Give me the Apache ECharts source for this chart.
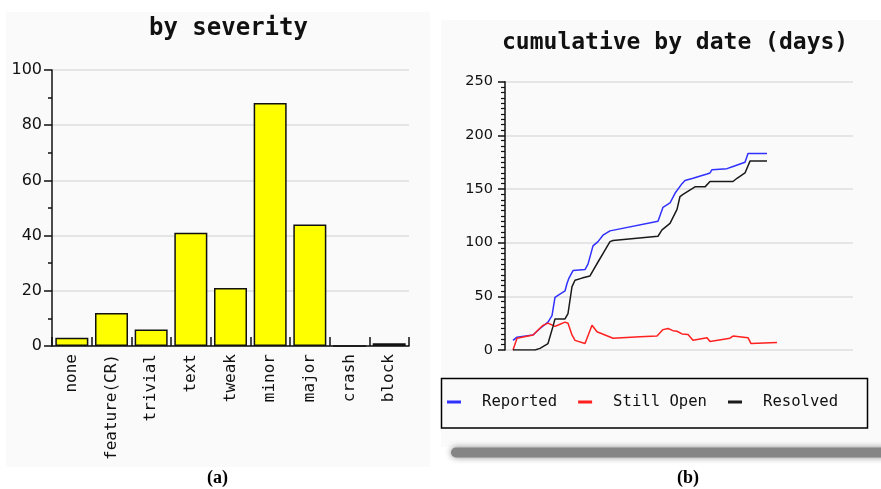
<!DOCTYPE html>
<html>
<head>
<meta charset="utf-8">
<script src="https://cdn.jsdelivr.net/npm/echarts@6/dist/echarts.min.js"></script>
<style>
html,body{margin:0;padding:0;background:#ffffff;}
#chart{width:881px;height:489px;}
</style>
</head>
<body>
<div id="chart"></div>
<script>
// ---- Panel (a): by severity ----
const severityCategories = ['none', 'feature(CR)', 'trivial', 'text', 'tweak', 'minor', 'major', 'crash', 'block'];
const severityCounts = [3, 12, 6, 41, 21, 88, 44, 0, 1];
const severityTicks = [0, 20, 40, 60, 80, 100];

// ---- Panel (b): cumulative by date (days) ----
const reportedDays = [8, 12, 28, 35, 43, 47, 50, 53, 60, 62, 64, 68, 80, 83, 88, 93, 98, 105, 153, 158, 165, 170, 177, 180, 188, 202, 205, 207, 222, 228, 240, 243, 262];
const reportedValues = [9, 12, 14, 20, 26, 32, 49, 51, 55, 62, 67, 74, 75, 80, 97, 101, 107, 111, 120, 133, 137, 146, 155, 158, 160, 164, 165, 168, 169, 171, 175, 183, 183];

const openDays = [8, 12, 28, 38, 43, 50, 55, 60, 63, 67, 70, 80, 87, 92, 100, 108, 135, 152, 158, 163, 168, 172, 177, 183, 188, 202, 205, 225, 228, 243, 246, 272];
const openValues = [0, 11, 14, 23, 25, 22, 24, 26, 25, 14, 9, 6, 23, 17, 14, 11, 12.4, 13, 19, 20, 18, 17.5, 15, 14.5, 9, 11.5, 8, 11, 13, 11.5, 6, 7];

const resolvedDays = [8, 30, 35, 43, 48, 50, 60, 63, 67, 70, 77, 85, 88, 93, 100, 105, 108, 153, 157, 165, 172, 175, 178, 190, 200, 205, 228, 232, 240, 245, 262];
const resolvedValues = [0, 0, 1.5, 6, 22, 29, 29, 34, 59, 65, 67, 69, 74, 82, 93, 101, 102, 106, 112, 118, 131, 143, 145, 152, 152, 157, 157, 160, 165, 176, 176];

const cumulativeTicks = [0, 50, 100, 150, 200, 250];
const seriesNames = ['Reported', 'Still Open', 'Resolved'];

function zip(xs, ys) { return xs.map((x, i) => [x, ys[i]]); }

const mono = 'DejaVu Sans Mono';
const sans = 'DejaVu Sans';

const chart = echarts.init(document.getElementById('chart'), null, {renderer: 'canvas'});

const option = {
  backgroundColor: '#ffffff',
  animation: false,
  graphic: [
    {type: 'rect', z: -10, silent: true, shape: {x: 6, y: 12, width: 424, height: 455}, style: {fill: '#fafafa'}},
    {type: 'rect', z: -10, silent: true, shape: {x: 441, y: 20, width: 440, height: 427}, style: {fill: '#fafafa'}},
    {type: 'rect', z: -5, silent: true, shape: {x: 451, y: 447.5, width: 440, height: 10, r: 5},
      style: {fill: '#858585', shadowBlur: 6, shadowColor: 'rgba(0,0,0,0.45)'}},
    {type: 'rect', z: 1, silent: true, shape: {x: 441.5, y: 378.5, width: 426, height: 49.5},
      style: {fill: 'none', stroke: '#000000', lineWidth: 1.5}},
    {type: 'text', silent: true, left: 207, top: 469,
      style: {text: '(a)', font: 'bold 18px "Liberation Serif"', fill: '#000'}},
    {type: 'text', silent: true, left: 677, top: 469,
      style: {text: '(b)', font: 'bold 18px "Liberation Serif"', fill: '#000'}}
  ],
  title: [
    {text: 'by severity', left: 149, top: 17, padding: 0,
      textStyle: {fontFamily: mono, fontWeight: 'bold', fontSize: 24, color: '#111'}},
    {text: 'cumulative by date (days)', left: 502, top: 32, padding: 0,
      textStyle: {fontFamily: mono, fontWeight: 'bold', fontSize: 23, color: '#111'}}
  ],
  legend: {
    left: 447, top: 394, padding: 0,
    itemWidth: 14, itemHeight: 3, itemGap: 21,
    icon: 'rect',
    data: seriesNames,
    textStyle: {fontFamily: mono, fontSize: 15.6, color: '#111', padding: [0, 0, 0, 16]}
  },
  grid: [
    {left: 52, top: 70, width: 357, height: 276},
    {left: 505, top: 81.7, width: 348, height: 268.3}
  ],
  xAxis: [
    {
      gridIndex: 0, type: 'category', data: severityCategories,
      axisLine: {lineStyle: {color: '#111', width: 1.5}},
      axisTick: {show: true, inside: true, length: 9, alignWithLabel: false, lineStyle: {color: '#111', width: 1.5}},
      axisLabel: {rotate: 90, margin: 8, fontFamily: mono, fontSize: 16, color: '#111', interval: 0},
      splitLine: {show: false}
    },
    {
      gridIndex: 1, type: 'value', min: 0, max: 348,
      axisLine: {show: false}, axisTick: {show: false}, axisLabel: {show: false}, splitLine: {show: false}
    }
  ],
  yAxis: [
    {
      gridIndex: 0, type: 'value', min: severityTicks[0], max: severityTicks[severityTicks.length - 1], interval: 20,
      axisLine: {show: true, lineStyle: {color: '#111', width: 1.5}},
      axisTick: {show: true, length: 8, lineStyle: {color: '#111', width: 1.5}},
      minorTick: {show: true, splitNumber: 2, length: 4, lineStyle: {color: '#111', width: 1.5}},
      axisLabel: {margin: 10, fontFamily: sans, fontSize: 16, color: '#111'},
      splitLine: {show: true, lineStyle: {color: '#dedede', width: 1.5}}
    },
    {
      gridIndex: 1, type: 'value', min: cumulativeTicks[0], max: cumulativeTicks[cumulativeTicks.length - 1], interval: 50,
      axisLine: {show: true, lineStyle: {color: '#111', width: 1.5}},
      axisTick: {show: true, length: 7, lineStyle: {color: '#111', width: 1.5}},
      minorTick: {show: true, splitNumber: 10, length: 4, lineStyle: {color: '#111', width: 1.2}},
      axisLabel: {margin: 12, fontFamily: sans, fontSize: 14.5, color: '#111'},
      splitLine: {show: true, lineStyle: {color: '#dedede', width: 1.5}}
    }
  ],
  series: [
    {
      type: 'bar', xAxisIndex: 0, yAxisIndex: 0, data: severityCounts, barWidth: 33,
      itemStyle: {color: '#ffff00', borderColor: '#111', borderWidth: 1.5}
    },
    {
      name: seriesNames[0], type: 'line', xAxisIndex: 1, yAxisIndex: 1, data: zip(reportedDays, reportedValues),
      showSymbol: false, symbol: 'none', color: '#3030ff', lineStyle: {color: '#3030ff', width: 1.5}
    },
    {
      name: seriesNames[1], type: 'line', xAxisIndex: 1, yAxisIndex: 1, data: zip(openDays, openValues),
      showSymbol: false, symbol: 'none', color: '#ff2020', lineStyle: {color: '#ff2020', width: 1.5}
    },
    {
      name: seriesNames[2], type: 'line', xAxisIndex: 1, yAxisIndex: 1, data: zip(resolvedDays, resolvedValues),
      showSymbol: false, symbol: 'none', color: '#1a1a1a', lineStyle: {color: '#1a1a1a', width: 1.5}
    }
  ]
};
chart.setOption(option);
</script>
</body>
</html>
